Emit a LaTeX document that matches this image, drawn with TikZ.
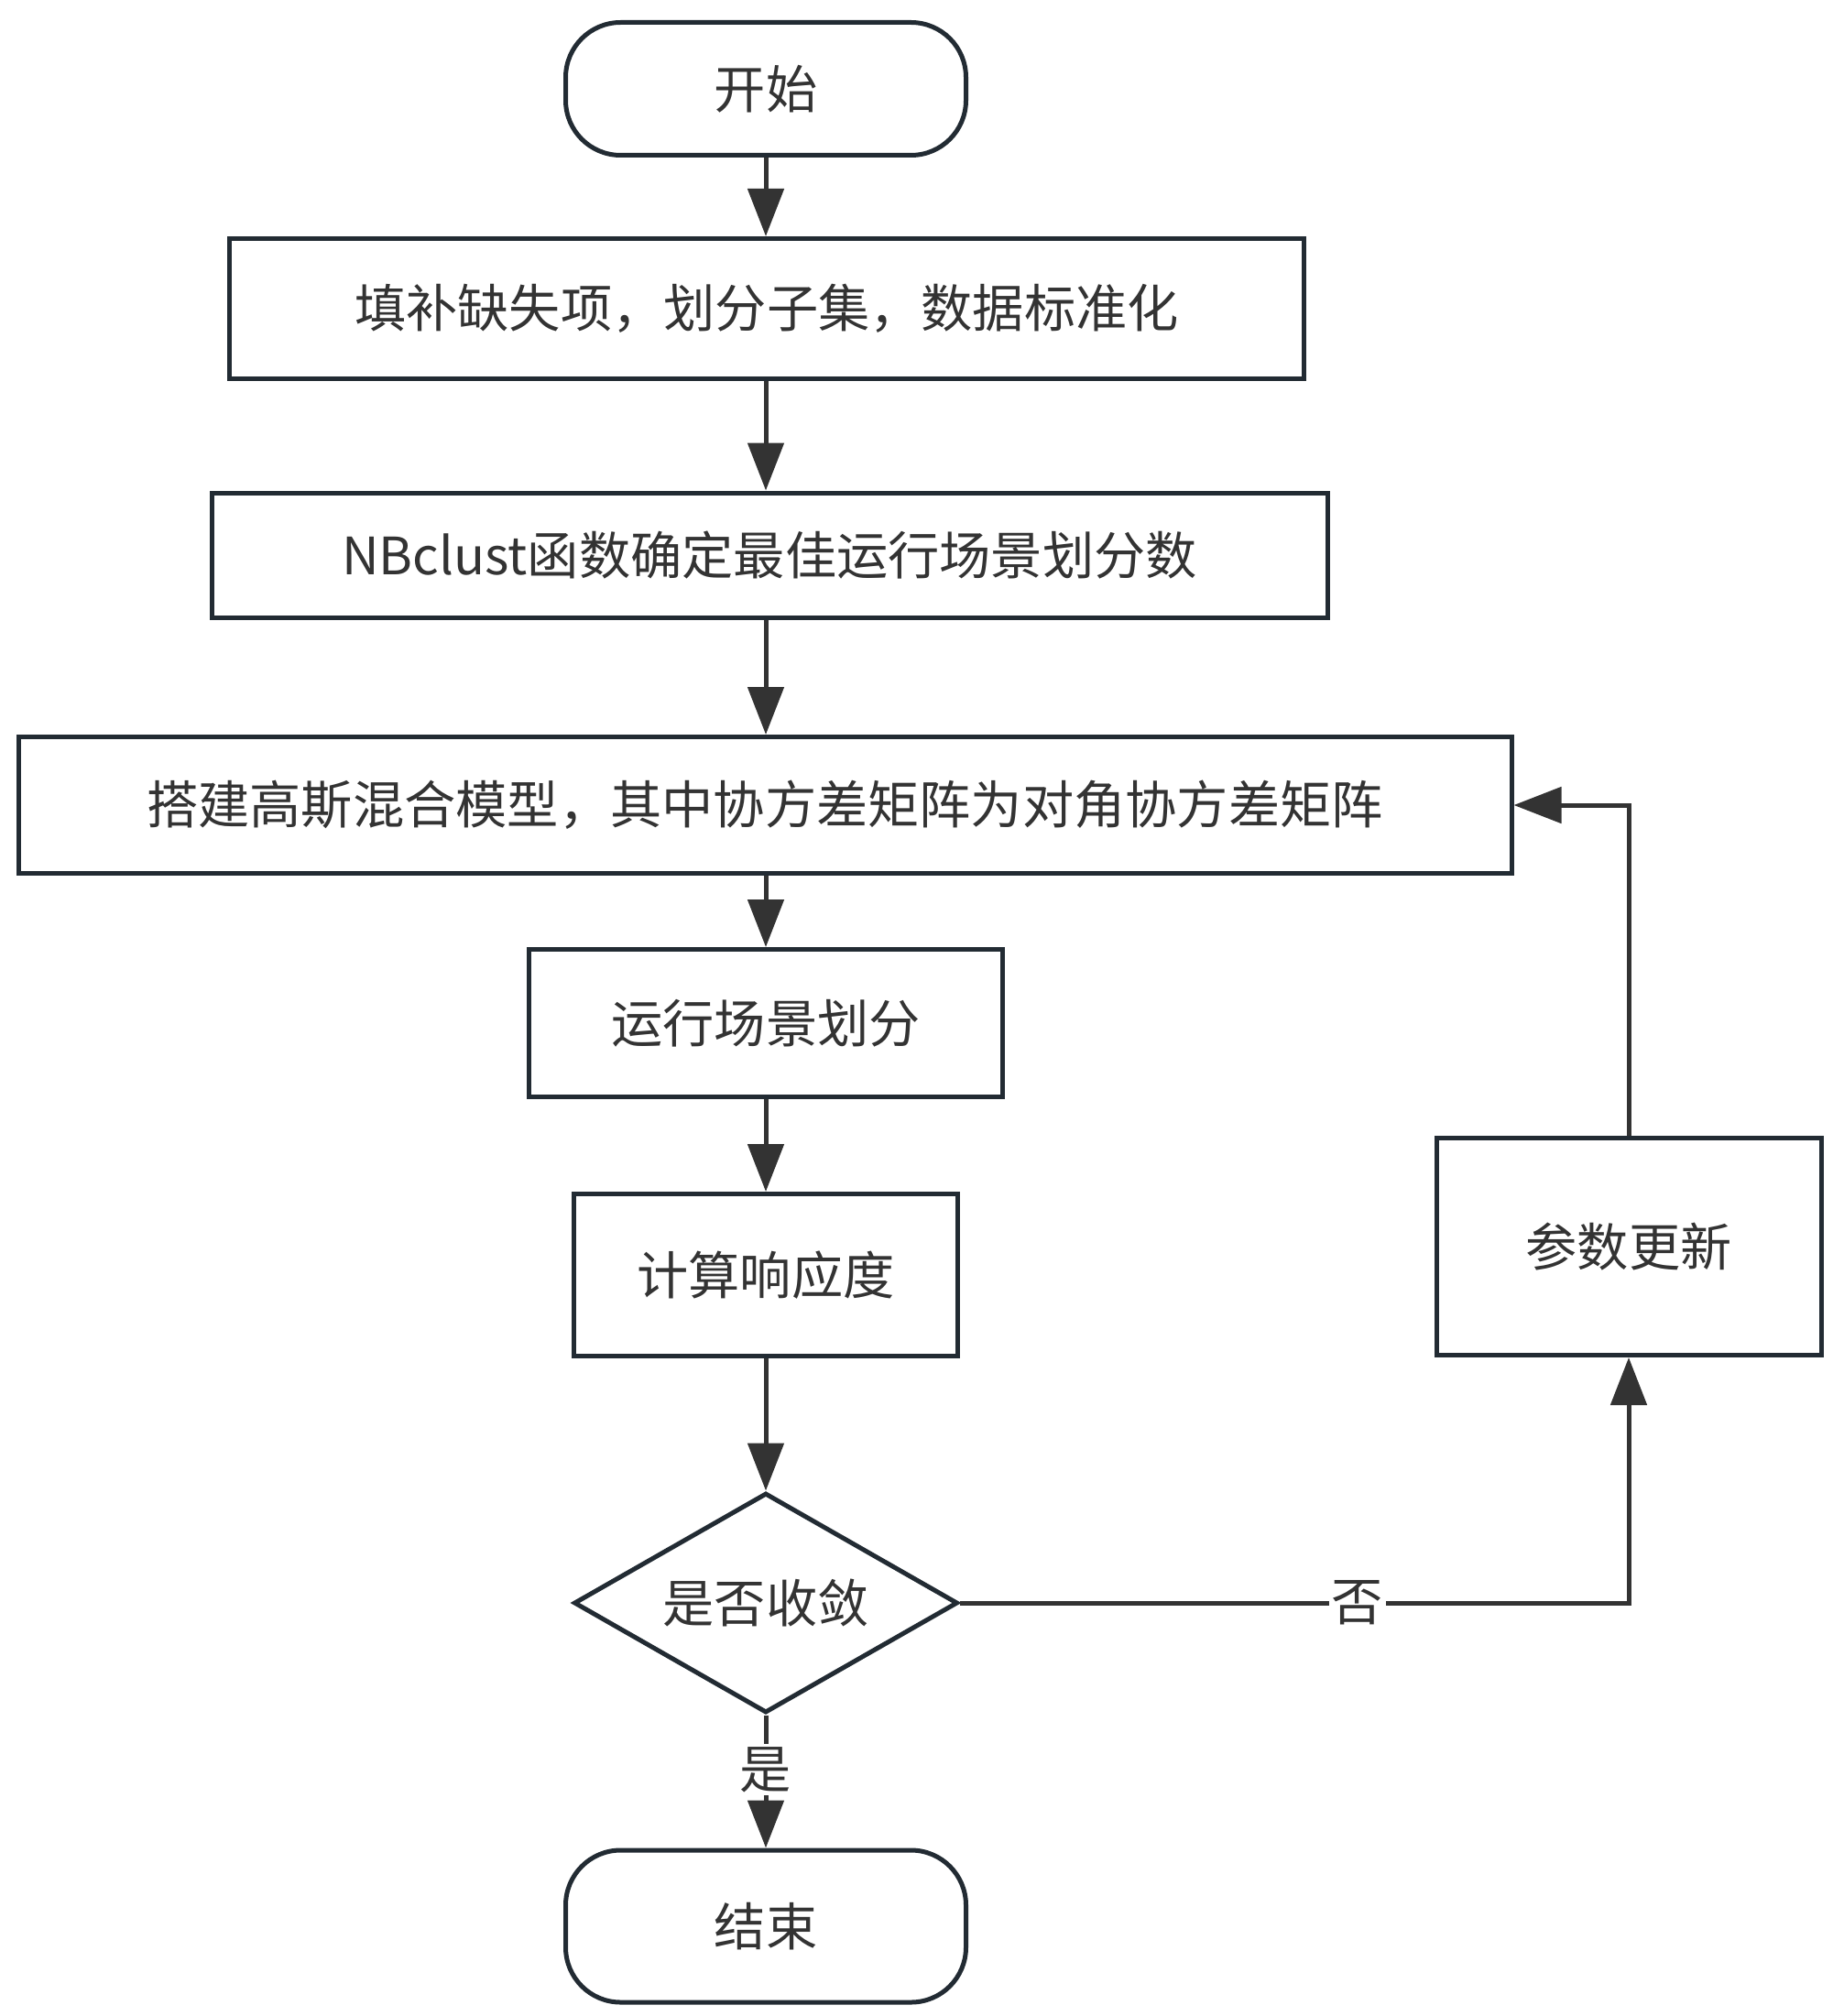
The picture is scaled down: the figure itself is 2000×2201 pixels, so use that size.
\documentclass[tikz,border=0pt]{standalone}
\usepackage{fontspec}
\setmainfont{Noto Sans CJK SC}
\usepackage{tikz}
\usetikzlibrary{arrows.meta,shapes.geometric,positioning,calc}

\definecolor{edge}{HTML}{222B33}
\definecolor{ink}{HTML}{333333}

\tikzset{
  box/.style={draw=edge,line width=0.5mm,fill=white,inner sep=0pt,text=ink,
    font=\fontsize{16pt}{19pt}\selectfont},
  term/.style={box,rounded corners=6mm},
  cond/.style={box,diamond,aspect=1.75},
  arr/.style={draw=ink,line width=0.5mm,-{Triangle[length=5.2mm,width=3.9mm]}},
  lbl/.style={fill=white,inner sep=0.3mm,text=ink,font=\fontsize{16pt}{19pt}\selectfont}
}

\begin{document}
\begin{tikzpicture}[x=0.1mm,y=-0.1mm]
        \useasboundingbox (0,0) rectangle (2000,2201);
        \node[term,minimum width=43.7mm,minimum height=14.5mm] (start) at (836,97) {开始};
        \node[box,minimum width=117.3mm,minimum height=15.3mm] (fill) at (837,337) {填补缺失项，划分子集，数据标准化};
        \node[box,minimum width=121.8mm,minimum height=13.6mm] (nbc) at (840,606) {NBclust函数确定最佳运行场景划分数};
        \node[box,minimum width=163mm,minimum height=14.9mm] (gmm) at (835,879) {搭建高斯混合模型，其中协方差矩阵为对角协方差矩阵};
        \node[box,minimum width=51.7mm,minimum height=16.1mm] (split) at (836,1117) {运行场景划分};
        \node[box,minimum width=41.9mm,minimum height=17.7mm] (resp) at (836,1392) {计算响应度};
        \node[cond,minimum width=41.9mm,minimum height=24mm] (conv) at (836,1750) {是否收敛};
        \node[box,minimum width=42mm,minimum height=23.7mm] (update) at (1778,1361) {参数更新};
        \node[term,minimum width=43.7mm,minimum height=16.6mm] (end) at (836,2103) {结束};

        \draw[arr] (start.south) -- (start.south |- fill.north);
        \draw[arr] (fill.south -| start.south) -- (start.south |- nbc.north);
        \draw[arr] (nbc.south -| start.south) -- (start.south |- gmm.north);
        \draw[arr] (gmm.south -| start.south) -- (split.north);
        \draw[arr] (split.south) -- (resp.north);
        \draw[arr] (resp.south) -- (conv.north);
        \draw[arr] (conv.south) -- node[lbl,pos=0.41] {是} (end.north);
        \draw[arr] (conv.east) -| node[lbl,pos=0.297] {否} (update.south);
        \draw[arr] (update.north) |- (gmm.east);
\end{tikzpicture}
\end{document}
